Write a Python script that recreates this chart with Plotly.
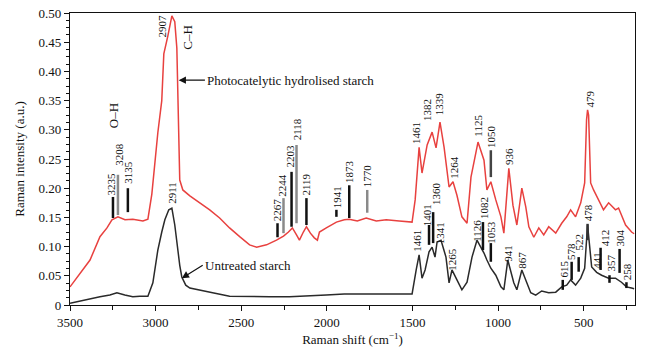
import plotly.graph_objects as go

# ---------------- data ----------------
shift_treated = [3500, 3441, 3383, 3325, 3284, 3255, 3220, 3179, 3133, 3074, 3045, 3022, 3004, 2987,
                 2964, 2952, 2929, 2905, 2888, 2876, 2859, 2841, 2800, 2742, 2684, 2626, 2568, 2509,
                 2451, 2410, 2352, 2294, 2253, 2224, 2201, 2177, 2160, 2137, 2119, 2096, 2073, 2055,
                 2043, 2003, 1944, 1898, 1869, 1822, 1770, 1711, 1653, 1577, 1502, 1484, 1461, 1444,
                 1414, 1385, 1362, 1339, 1315, 1286, 1263, 1240, 1211, 1181, 1158, 1117, 1082, 1065,
                 1042, 1013, 983, 966, 937, 913, 890, 861, 838, 820, 791, 762, 733, 704, 663, 628, 599,
                 576, 547, 517, 494, 483, 477, 471, 459, 442, 413, 384, 354, 314, 296, 255, 220, 205]
int_treated = [0.031, 0.055, 0.077, 0.117, 0.132, 0.146, 0.151, 0.146, 0.147, 0.144, 0.147, 0.19, 0.248, 0.295,
               0.35, 0.43, 0.46, 0.495, 0.485, 0.44, 0.214, 0.197, 0.187, 0.175, 0.163, 0.149, 0.132, 0.117,
               0.103, 0.099, 0.103, 0.111, 0.118, 0.125, 0.132, 0.12, 0.111, 0.125, 0.134, 0.123, 0.115, 0.111,
               0.125, 0.132, 0.142, 0.146, 0.147, 0.144, 0.149, 0.144, 0.146, 0.144, 0.142, 0.18, 0.27, 0.226,
               0.274, 0.296, 0.269, 0.313, 0.27, 0.202, 0.211, 0.188, 0.151, 0.140, 0.219, 0.279, 0.248, 0.197,
               0.211, 0.18, 0.151, 0.123, 0.234, 0.171, 0.137, 0.2, 0.168, 0.134, 0.116, 0.132, 0.12, 0.134, 0.123, 0.14, 0.151,
               0.163, 0.151, 0.175, 0.209, 0.317, 0.334, 0.325, 0.209, 0.197, 0.18, 0.163, 0.175, 0.163, 0.166, 0.137, 0.125, 0.122]

shift_untreated = [3500, 3441, 3383, 3325, 3267, 3226, 3180, 3133, 3092, 3045, 3016, 2987, 2964, 2946, 2923,
                   2905, 2888, 2876, 2859, 2847, 2824, 2800, 2742, 2667, 2568, 2451, 2335, 2218, 2102, 2003,
                   1898, 1810, 1694, 1577, 1502, 1478, 1461, 1444, 1426, 1403, 1385, 1368, 1356, 1333, 1304,
                   1286, 1269, 1240, 1211, 1181, 1152, 1123, 1100, 1082, 1065, 1042, 1013, 983, 966, 943, 908,
                   890, 861, 838, 809, 780, 745, 704, 663, 628, 599, 576, 547, 517, 494, 477, 465, 453, 424,
                   395, 354, 314, 279, 250, 220, 205]
int_untreated = [0.003, 0.007, 0.010, 0.014, 0.017, 0.021, 0.017, 0.014, 0.015, 0.015, 0.038, 0.094, 0.125, 0.146, 0.163,
                 0.166, 0.137, 0.106, 0.068, 0.048, 0.034, 0.029, 0.026, 0.021, 0.015, 0.014, 0.014, 0.014, 0.015, 0.017,
                 0.019, 0.019, 0.019, 0.019, 0.019, 0.06, 0.086, 0.046, 0.06, 0.091, 0.099, 0.082, 0.108, 0.111, 0.082,
                 0.038, 0.06, 0.043, 0.026, 0.039, 0.082, 0.111, 0.099, 0.089, 0.077, 0.063, 0.051, 0.031, 0.026, 0.077, 0.038,
                 0.026, 0.06, 0.043, 0.021, 0.017, 0.024, 0.021, 0.022, 0.031, 0.034, 0.043, 0.034, 0.046, 0.063, 0.137, 0.103, 0.065, 0.056,
                 0.051, 0.046, 0.046, 0.039, 0.031, 0.029, 0.028]

x_ticks = [3500, 3000, 2500, 2000, 1500, 1000, 500]
y_ticks = [0, 0.05, 0.10, 0.15, 0.20, 0.25, 0.30, 0.35, 0.40, 0.45, 0.50]
y_ticktext = ["0", "0.05", "0.10", "0.15", "0.20", "0.25", "0.30", "0.35", "0.40", "0.45", "0.50"]

# peak labels: text, x (cm-1), y centre (a.u.)
peak_text = ["2907", "3235", "3208", "3135", "2267", "2244", "2203", "2118", "2119", "1941", "1873", "1770",
             "1461", "1382", "1339", "1264", "1125", "1050", "936", "479",
             "2911", "1461", "1401", "1360", "1341", "1265", "1126", "1082", "1053", "941", "867",
             "615", "578", "522", "478", "441", "412", "357", "304", "258"]
peak_x = [2964, 3258, 3214, 3162, 2294, 2259, 2212, 2177, 2119, 1939, 1869, 1764,
          1478, 1414, 1344, 1257, 1117, 1042, 937, 465,
          2905, 1473, 1414, 1362, 1339, 1269, 1123, 1082, 1042, 943, 861,
          616, 570, 529, 477, 424, 378, 343, 290, 250]
peak_y = [0.478, 0.207, 0.259, 0.228, 0.163, 0.205, 0.255, 0.300, 0.207, 0.185, 0.228, 0.221,
          0.295, 0.334, 0.344, 0.235, 0.307, 0.289, 0.255, 0.353,
          0.192, 0.110, 0.154, 0.190, 0.123, 0.079, 0.127, 0.166, 0.125, 0.089, 0.077,
          0.062, 0.092, 0.108, 0.158, 0.077, 0.115, 0.072, 0.115, 0.057]

# marker bars: x, y0, y1, colour
bar_x = [3249, 3220, 3162, 2288, 2253, 2206, 2177, 2119, 1944, 1869, 1764, 1042,
         1403, 1379, 1088, 1042, 622, 570, 529, 477, 401, 349, 290, 250]
bar_y0 = [0.149, 0.154, 0.159, 0.116, 0.123, 0.134, 0.140, 0.137, 0.151, 0.149, 0.158, 0.219,
          0.103, 0.106, 0.094, 0.074, 0.026, 0.043, 0.057, 0.111, 0.060, 0.038, 0.055, 0.029]
bar_y1 = [0.185, 0.223, 0.200, 0.140, 0.183, 0.228, 0.274, 0.183, 0.163, 0.205, 0.197, 0.265,
          0.137, 0.159, 0.142, 0.106, 0.043, 0.074, 0.082, 0.139, 0.098, 0.051, 0.096, 0.039]
bar_color = ["#111111", "#8a8a8a", "#111111", "#111111", "#8a8a8a", "#111111", "#8a8a8a", "#111111",
             "#111111", "#111111", "#8a8a8a", "#444444",
             "#111111", "#111111", "#111111", "#111111", "#111111", "#111111", "#111111", "#333333",
             "#111111", "#111111", "#111111", "#111111"]

FONT = "Liberation Serif"

fig = go.Figure()
fig.add_trace(go.Scatter(x=shift_treated, y=int_treated, mode="lines",
                         line=dict(color="#e8413f", width=1.5), showlegend=False))
fig.add_trace(go.Scatter(x=shift_untreated, y=int_untreated, mode="lines",
                         line=dict(color="#2a2a2a", width=1.5), showlegend=False))

for bx, b0, b1, bc in zip(bar_x, bar_y0, bar_y1, bar_color):
    fig.add_shape(type="line", x0=bx, x1=bx, y0=b0, y1=b1, xref="x", yref="y",
                  line=dict(color=bc, width=2.5))

for t, px_, py_ in zip(peak_text, peak_x, peak_y):
    fig.add_annotation(x=px_, y=py_, text=t, textangle=-90, showarrow=False,
                       xanchor="center", yanchor="middle",
                       font=dict(family=FONT, size=11, color="#111111"))

fig.add_annotation(x=2812, y=0.459, text="C–H", textangle=-90, showarrow=False,
                   font=dict(family=FONT, size=13, color="#111111"))
fig.add_annotation(x=3249, y=0.325, text="O–H", textangle=-90, showarrow=False,
                   font=dict(family=FONT, size=13, color="#111111"))

fig.add_annotation(x=2865, y=0.385, ax=2712, ay=0.385, axref="x", ayref="y", xref="x", yref="y",
                   text="Photocatelytic hydrolised starch", xanchor="left", yanchor="middle",
                   showarrow=True, arrowhead=2, arrowsize=1.2, arrowwidth=1.2, arrowcolor="#111111",
                   font=dict(family=FONT, size=13, color="#111111"))
fig.add_annotation(x=2847, y=0.046, ax=2725, ay=0.068, axref="x", ayref="y", xref="x", yref="y",
                   text="Untreated starch", xanchor="left", yanchor="middle",
                   showarrow=True, arrowhead=2, arrowsize=1.2, arrowwidth=1.2, arrowcolor="#111111",
                   font=dict(family=FONT, size=13, color="#111111"))

fig.update_layout(
    width=647, height=358,
    margin=dict(l=70, r=12, t=13, b=53),
    paper_bgcolor="white", plot_bgcolor="white",
    font=dict(family=FONT, size=13, color="#111111"),
    xaxis=dict(range=[3500, 200], tickvals=x_ticks, ticks="outside", ticklen=5, tickwidth=1,
               tickcolor="#111111", showline=True, linecolor="#111111", linewidth=1.2, mirror=True,
               showgrid=False, zeroline=False, automargin=False,
               minor=dict(dtick=250, tick0=0, ticks="outside", ticklen=4, tickcolor="#111111"),
               tickfont=dict(family=FONT, size=13),
               title=dict(text="Raman shift (cm<sup>−1</sup>)", font=dict(family=FONT, size=13), standoff=6)),
    yaxis=dict(range=[0, 0.5], tickvals=y_ticks, ticktext=y_ticktext, ticks="outside", ticklen=5,
               tickwidth=1, tickcolor="#111111", showline=True, linecolor="#111111", linewidth=1.2,
               mirror=True, showgrid=False, zeroline=False, automargin=False, ticklabeloverflow="allow",
               minor=dict(dtick=0.0125, tick0=0, ticks="outside", ticklen=3, tickcolor="#111111"),
               tickfont=dict(family=FONT, size=13),
               title=dict(text="Raman intensity (a.u.)", font=dict(family=FONT, size=13), standoff=10)),
)

# remove the browser's default 8px body margin so the figure sits at the page origin
fig.write_html("out.html", config={"displayModeBar": False},
               post_script="document.body.style.margin='0px';")
